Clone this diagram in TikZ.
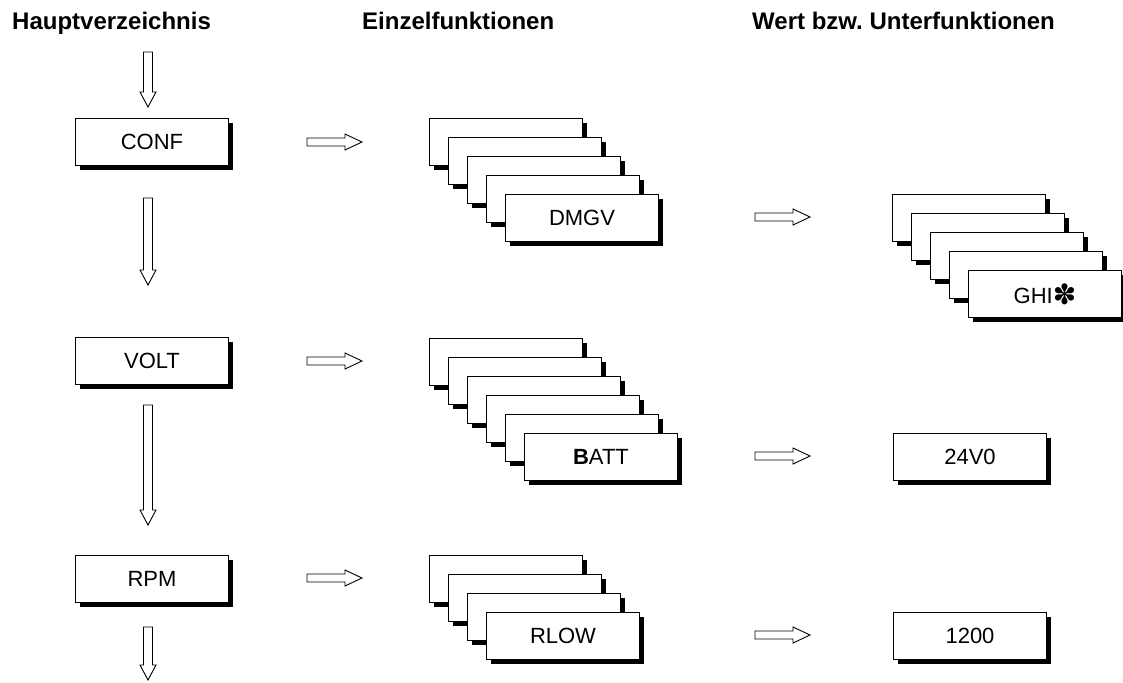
\documentclass[tikz,border=0pt]{standalone}
\usepackage{fontspec}
\setmainfont{Liberation Sans}
\newfontfamily\djv{DejaVu Sans}
\usetikzlibrary{shadows}
\frenchspacing
\tikzset{
  kbox/.style={draw, fill=white, line width=1pt, minimum width=153pt, minimum height=47pt,
    inner sep=0pt, anchor=north west, font=\fontsize{22}{26}\selectfont,
    drop shadow={shadow xshift=4.5pt, shadow yshift=-4.5pt, fill=black, opacity=1}},
  head/.style={font=\bfseries\fontsize{24}{28}\selectfont, anchor=base west, inner sep=0pt},
  barrow/.style={draw, line width=0.9pt, fill=white, line join=miter}
}
\newcommand{\rarr}[2]{\draw[barrow, shift={(#1,#2)}] (0,-4) -- (38,-4) -- (38,-8) -- (55,0) -- (38,8) -- (38,4) -- (0,4) -- cycle;}
\newcommand{\darr}[4]{\draw[barrow] (#1-4.5,#2) -- (#1-4.5,#3) -- (#1-8,#3) -- (#1,#4) -- (#1+8,#3) -- (#1+4.5,#3) -- (#1+4.5,#2) -- cycle;}
\begin{document}
\begin{tikzpicture}[x=1pt, y=-1pt]
\useasboundingbox (0,0) rectangle (1123,682);
% headers
\node[head] (h1) at (12,30) {Hauptverzeichnis};
\node[head] (h2) at (362,30) {Einzelfunktionen};
\node[head] (h3) at (752,30) {Wert bzw. Unterfunktionen};
% main column
\node[kbox] (conf) at (75,118) {CONF};
\node[kbox] (volt) at (75,337) {VOLT};
\node[kbox] (rpm) at (75,555) {RPM};
\darr{148}{52}{92}{107}
\darr{148}{198}{270}{285}
\darr{148}{405}{510}{525}
\darr{148}{627}{665}{680}
% first arrows
\rarr{307}{142}
\rarr{307}{361}
\rarr{307}{578}
% DMGV stack
\foreach \i in {0,...,3} { \node[kbox] (d\i) at (429+19*\i,118+19*\i) {}; }
\node[kbox] (dmgv) at (505,194) {DMGV};
% BATT stack
\foreach \i in {0,...,4} { \node[kbox] (b\i) at (429+19*\i,338+19*\i) {}; }
\node[kbox] (batt) at (524,433) {\textbf{B}ATT};
% RLOW stack
\foreach \i in {0,...,2} { \node[kbox] (r\i) at (429+19*\i,555+19*\i) {}; }
\node[kbox] (rlow) at (486,612) {RLOW};
% second arrows
\rarr{755}{217}
\rarr{755}{456}
\rarr{755}{635}
% GHI stack
\foreach \i in {0,...,3} { \node[kbox] (g\i) at (892+19*\i,194+19*\i) {}; }
\node[kbox] (ghi) at (968,270) {GHI{\djv\fontsize{28}{28}\selectfont\raisebox{-1pt}{✽}}};
% values
\node[kbox] (v24) at (893,433) {24V0};
\node[kbox] (v1200) at (893,612) {1200};
\end{tikzpicture}
\end{document}
